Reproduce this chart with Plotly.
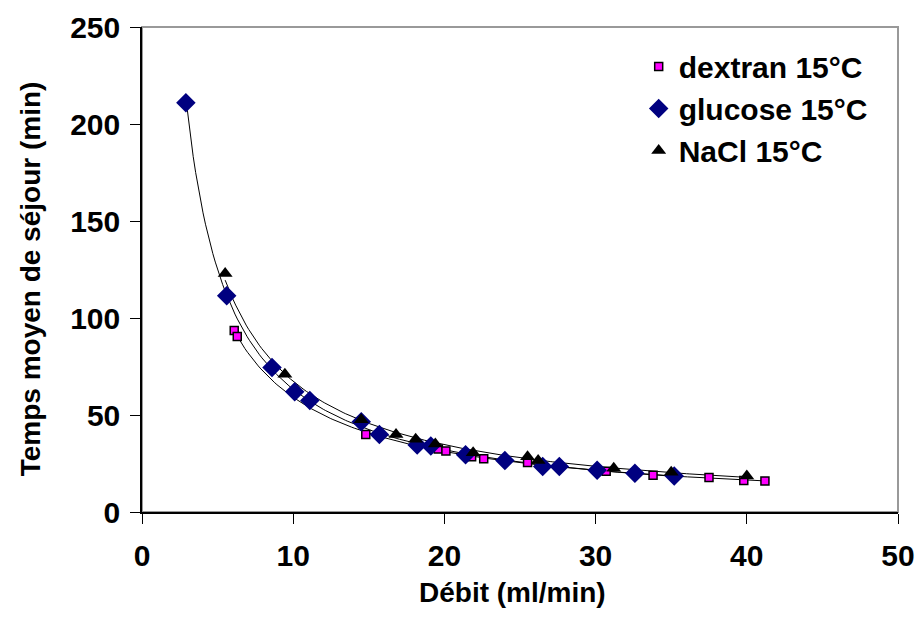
import numpy as np
import plotly.graph_objects as go

# valeurs
dextran_x = [6.1, 6.3, 14.8, 19.6, 20.1, 21.8, 22.6, 25.5, 30.7, 32.6, 33.8, 37.5, 39.8, 41.2]
dextran_y = [93.5, 90.5, 40, 32.5, 31.5, 28.5, 27.5, 25.5, 21, 20, 19, 17.8, 16.2, 16.0]

glucose_x = [2.9, 5.6, 8.6, 10.1, 11.1, 14.5, 15.7, 18.2, 19.1, 21.4, 24.0, 26.5, 27.6, 30.1, 32.6, 35.2]
glucose_y = [211, 111.5, 74.5, 62, 57.5, 46.5, 40, 34.5, 34, 29.5, 26.5, 23.5, 23.5, 21.5, 20, 18.5]

nacl_x = [5.5, 9.45, 14.5, 16.8, 18.1, 19.4, 21.9, 25.5, 26.2, 31.2, 35.0, 40.0]
nacl_y = [123, 71, 47.5, 40, 37.5, 35, 30.5, 28.5, 26.5, 22.5, 20.5, 18.5]

x_ticks = [0, 10, 20, 30, 40, 50]
y_ticks = [0, 50, 100, 150, 200, 250]

FONT = "Liberation Sans, Arial, sans-serif"
FS = 30
FS_TITLE = 28


def power_trend(xs, ys):
    # courbe de tendance puissance (comme Excel)
    b, ln_a = np.polyfit(np.log(xs), np.log(ys), 1)
    xx = np.linspace(min(xs), max(xs), 200)
    return xx, np.exp(ln_a) * xx ** b


fig = go.Figure()

for xs, ys in [(glucose_x, glucose_y), (nacl_x, nacl_y), (dextran_x, dextran_y)]:
    tx, ty = power_trend(xs, ys)
    fig.add_trace(go.Scatter(x=tx, y=ty, mode="lines", line=dict(color="black", width=1),
                             showlegend=False, hoverinfo="skip"))

fig.add_trace(go.Scatter(x=dextran_x, y=dextran_y, mode="markers", name="dextran 15°C",
                         legendgroup="a",
                         marker=dict(symbol="square", size=8, color="#FF00FF",
                                     line=dict(color="black", width=1.5))))
fig.add_trace(go.Scatter(x=glucose_x, y=glucose_y, mode="markers", name="glucose 15°C",
                         legendgroup="b",
                         marker=dict(symbol="diamond", size=15, color="#000080",
                                     line=dict(width=0))))
fig.add_trace(go.Scatter(x=nacl_x, y=nacl_y, mode="markers", name="NaCl 15°C",
                         legendgroup="c",
                         marker=dict(symbol="triangle-up", size=13, color="black",
                                     line=dict(width=0))))

fig.update_layout(
    width=918, height=634,
    margin=dict(l=142, r=20, t=27, b=122),
    paper_bgcolor="white", plot_bgcolor="white",
    font=dict(family=FONT, size=FS, color="black"),
    legend=dict(x=0.657, y=0.972, xanchor="left", yanchor="top",
                bgcolor="rgba(0,0,0,0)", traceorder="grouped", tracegroupgap=0,
                font=dict(family=FONT, size=FS, color="black", weight="bold")),
    shapes=[dict(type="rect", xref="paper", yref="paper", x0=0, y0=0, x1=1, y1=1,
                 line=dict(color="#999999", width=2), layer="below")],
    annotations=[
        dict(text="<b>Débit (ml/min)</b>", xref="paper", yref="paper", x=0.49, y=-0.165,
             xanchor="center", yanchor="middle", showarrow=False,
             font=dict(family=FONT, size=FS_TITLE, color="black")),
        dict(text="<b>Temps moyen de séjour (min)</b>", xref="paper", yref="paper",
             x=-0.148, y=0.48, xanchor="center", yanchor="middle", textangle=-90,
             showarrow=False, font=dict(family=FONT, size=FS_TITLE, color="black")),
    ],
)

fig.update_xaxes(range=[0, 50], tickvals=x_ticks, ticks="outside", ticklen=10,
                 tickcolor="black", showline=True, linecolor="black", linewidth=1.5,
                 showgrid=False, zeroline=False, ticklabelstandoff=6, automargin=False,
                 tickfont=dict(size=FS, weight="bold"))
fig.update_yaxes(range=[0, 250], tickvals=y_ticks, ticks="outside", ticklen=10,
                 tickcolor="black", showline=True, linecolor="black", linewidth=1.5,
                 showgrid=False, zeroline=False, ticklabelstandoff=4, automargin=False,
                 tickfont=dict(size=FS, weight="bold"))

fig.write_html("out.html", config={"displayModeBar": False},
               post_script="document.body.style.margin='0';")
